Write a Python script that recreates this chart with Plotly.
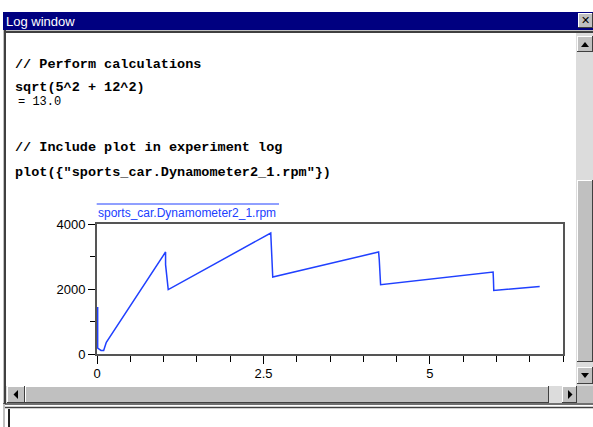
import plotly.graph_objects as go

# ---- data ----
time_s = [0.01, 0.01, 0.01, 0.06, 0.10, 0.14, 0.55, 1.03, 1.03, 1.07,
          2.61, 2.62, 2.64, 4.23, 4.24, 4.26, 5.95, 5.955, 5.96, 6.65]
rpm = [1450, 1150, 180, 110, 110, 360, 1640, 3138, 2750, 1980,
       3723, 3330, 2370, 3138, 2900, 2132, 2523, 2300, 1957, 2080]

x_ticks = [0, 2.5, 5]
x_tick_labels = ["0", "2.5", "5"]
y_ticks = [0, 2000, 4000]
y_tick_labels = ["0", "2000", "4000"]

series_name = "sports_car.Dynamometer2_1.rpm"
log_lines = [
    ("// Perform calculations", True),
    ("sqrt(5^2 + 12^2)", True),
    ("= 13.0", False),
    ("// Include plot in experiment log", True),
    ('plot({"sports_car.Dynamometer2_1.rpm"})', True),
]

# ---- page geometry (pixels) ----
FW, FH = 593, 427
L, R, T, B = 97, 563, 224, 354
W, H = R - L, B - T


def px(x):
    return (x - L) / W


def py(y):
    return (B - y) / H


shapes = []
annotations = []


def rect(x0, y0, x1, y1, fill, line=None, lw=0):
    shapes.append(dict(type="rect", xref="paper", yref="paper",
                       x0=px(x0), x1=px(x1), y0=py(y1), y1=py(y0),
                       fillcolor=fill, layer="above",
                       line=dict(color=line or fill, width=lw)))


def hline(x0, x1, y, color, w=1):
    shapes.append(dict(type="line", xref="paper", yref="paper",
                       x0=px(x0), x1=px(x1), y0=py(y), y1=py(y),
                       line=dict(color=color, width=w), layer="above"))


def vline(x, y0, y1, color, w=1):
    shapes.append(dict(type="line", xref="paper", yref="paper",
                       x0=px(x), x1=px(x), y0=py(y0), y1=py(y1),
                       line=dict(color=color, width=w), layer="above"))


def tri(points, color="#000000"):
    path = "M " + " L ".join(f"{px(a)},{py(b)}" for a, b in points) + " Z"
    shapes.append(dict(type="path", xref="paper", yref="paper", path=path,
                       fillcolor=color, line=dict(color=color, width=0),
                       layer="above"))


def button(x0, y0, x1, y1):
    rect(x0, y0, x1, y1, "#c0c0c0")
    hline(x0, x1, y0 + 0.5, "#ffffff")
    vline(x0 + 0.5, y0, y1, "#ffffff")
    hline(x0, x1, y1 - 0.5, "#404040")
    vline(x1 - 0.5, y0, y1, "#404040")


def text(x, y, s, size=13, family="Liberation Sans", color="#000000",
         xanchor="left"):
    annotations.append(dict(xref="paper", yref="paper", x=px(x), y=py(y),
                            text=s, showarrow=False, xanchor=xanchor,
                            yanchor="middle",
                            font=dict(family=family, size=size, color=color)))


# ---- window chrome ----
rect(3, 12, 593, 30, "#000080")
text(4, 21, "Log window", size=13, color="#ffffff")
button(578, 13, 593, 28)
text(585.5, 20.5, "<b>✕</b>", size=11, family="DejaVu Sans", xanchor="center")
hline(3, 593, 30.5, "#c0c0c0")
hline(3, 593, 32, "#404040", 2)
vline(3.5, 30, 404, "#c0c0c0")
vline(5, 30, 404, "#404040", 2)

# vertical scrollbar
rect(576, 33, 593, 386, "#dcdcdc")
button(577, 36, 593, 52)
tri([(581, 47), (589, 47), (585, 42)])
button(577, 180, 593, 362)
button(577, 367, 593, 384)
tri([(581, 373), (589, 373), (585, 378)])

# horizontal scrollbar
rect(6, 386, 593, 403, "#dcdcdc")
button(7, 386, 25, 403)
tri([(18, 390), (18, 399), (13.5, 394.5)])
button(25, 386, 549, 403)
button(562, 386, 577, 403)
tri([(568, 390), (568, 399), (572.5, 394.5)])
rect(577, 386, 593, 403, "#c0c0c0")

# bottom input box
hline(3, 593, 404, "#404040", 1.5)
hline(3, 593, 407.5, "#404040", 1.5)
vline(4, 404, 427, "#c0c0c0", 2)
vline(9, 409, 427, "#202020", 2)

# ---- log text ----
log_y = [64, 87, 102, 147, 172]
for (s, bold), yy in zip(log_lines, log_y):
    if bold:
        text(13, yy, "<b>" + s + "</b>", size=13.5, family="Liberation Mono")
    else:
        text(16, yy, s, size=12, family="Liberation Mono")

# ---- legend ----
hline(96.7, 279, 204, "#2040ff", 1)
text(96, 213, series_name, size=12, color="#2040ff")

fig = go.Figure(go.Scatter(x=time_s, y=rpm, mode="lines",
                           line=dict(color="#2040ff", width=1.5),
                           showlegend=False, hoverinfo="skip"))

axis_common = dict(showgrid=False, zeroline=False, showline=True,
                   linecolor="#555555", linewidth=2, mirror=True,
                   layer="below traces",
                   ticks="outside", tickcolor="#000000", tickwidth=1,
                   tickfont=dict(family="Liberation Sans", size=13,
                                 color="#000000"))

fig.update_layout(
    width=FW, height=FH,
    margin=dict(l=L, r=FW - R, t=T, b=FH - B, autoexpand=False),
    paper_bgcolor="#ffffff", plot_bgcolor="#ffffff",
    shapes=shapes, annotations=annotations,
    xaxis=dict(range=[0, 7], tickvals=x_ticks, ticktext=x_tick_labels,
               ticklen=8, ticklabelstandoff=-2,
               minor=dict(dtick=0.5, tick0=0, ticks="outside", ticklen=6,
                          tickcolor="#000000", showgrid=False),
               **axis_common),
    yaxis=dict(range=[0, 4000], tickvals=y_ticks, ticktext=y_tick_labels,
               ticklen=7,
               minor=dict(dtick=1000, tick0=0, ticks="outside", ticklen=5,
                          tickcolor="#000000", showgrid=False),
               **axis_common),
)

fig.write_html("out.html", config={"displayModeBar": False},
               post_script="document.body.style.margin='0';"
                           "document.body.style.overflow='hidden';")
